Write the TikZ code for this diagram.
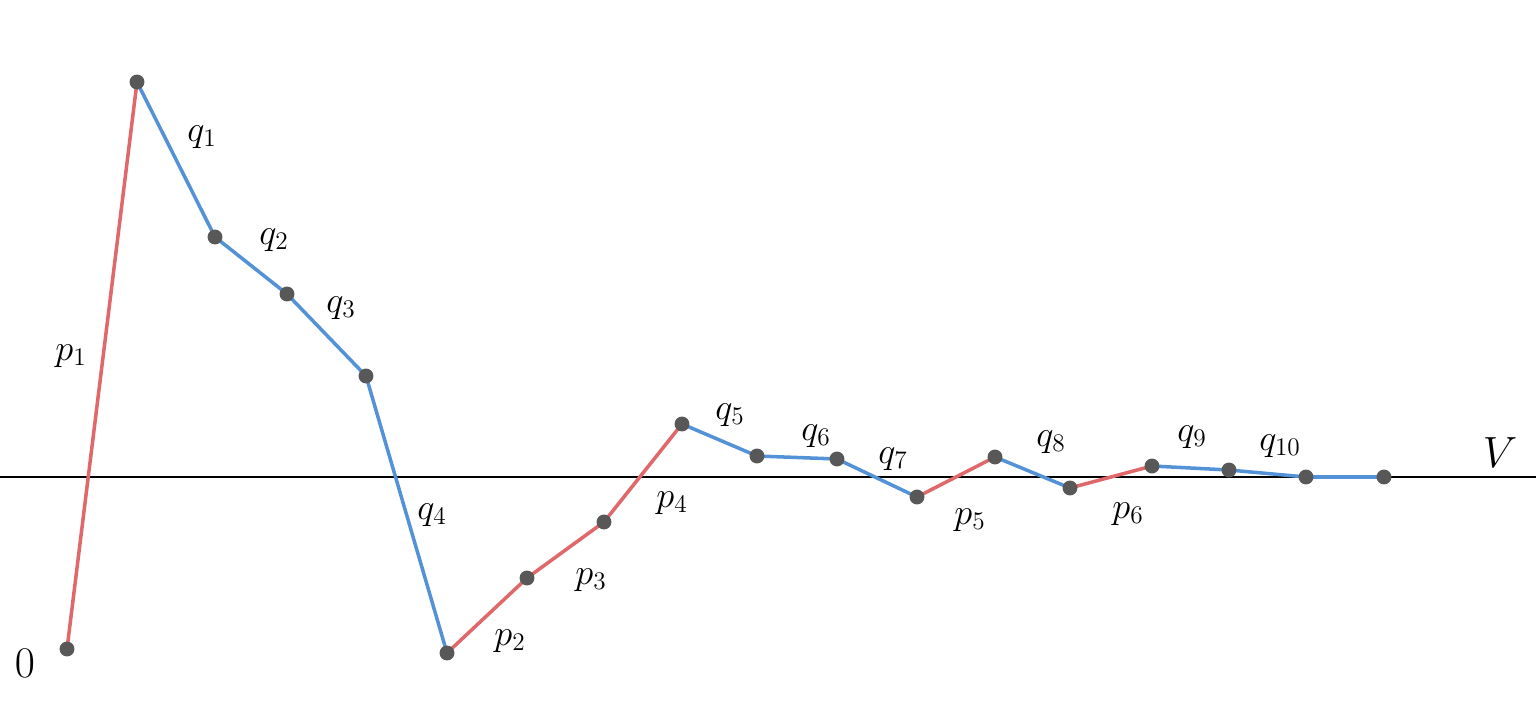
\documentclass[tikz,border=0pt]{standalone}
\begin{document}
\begin{tikzpicture}[x=0.02cm,y=-0.02cm,
  redseg/.style={draw={rgb,255:red,224;green,104;blue,106},line width=2pt},
  blueseg/.style={draw={rgb,255:red,84;green,146;blue,216},line width=2pt},
  dot/.style={circle,fill={rgb,255:red,88;green,88;blue,88},inner sep=0pt,minimum size=8.5pt},
  lab/.style={inner sep=0pt,font=\fontsize{21.5}{24}\selectfont},
  biglab/.style={inner sep=0pt,font=\fontsize{32}{36}\selectfont}]
\useasboundingbox (0,0) rectangle (1536,702);
% axis
\coordinate (AL) at (0,477);
\coordinate (AR) at (1536,477);
\draw[line width=0.8pt] (AL) -- (AR);
% points
\coordinate (P0) at (67,649);
\coordinate (P1) at (137,82);
\coordinate (P2) at (215,237);
\coordinate (P3) at (287,294);
\coordinate (P4) at (366,376);
\coordinate (P5) at (447,653);
\coordinate (P6) at (527,578);
\coordinate (P7) at (604,522);
\coordinate (P8) at (682,424);
\coordinate (P9) at (757,456);
\coordinate (P10) at (837,459);
\coordinate (P11) at (917,497);
\coordinate (P12) at (995,457);
\coordinate (P13) at (1070,488);
\coordinate (P14) at (1152,466);
\coordinate (P15) at (1229,470);
\coordinate (P16) at (1306,477);
\coordinate (P17) at (1384,477);
% segments
\draw[redseg] (P0) -- (P1);
\draw[blueseg] (P1) -- (P2);
\draw[blueseg] (P2) -- (P3);
\draw[blueseg] (P3) -- (P4);
\draw[blueseg] (P4) -- (P5);
\draw[redseg] (P5) -- (P6);
\draw[redseg] (P6) -- (P7);
\draw[redseg] (P7) -- (P8);
\draw[blueseg] (P8) -- (P9);
\draw[blueseg] (P9) -- (P10);
\draw[blueseg] (P10) -- (P11);
\draw[redseg] (P11) -- (P12);
\draw[blueseg] (P12) -- (P13);
\draw[redseg] (P13) -- (P14);
\draw[blueseg] (P14) -- (P15);
\draw[blueseg] (P15) -- (P16);
\draw[blueseg] (P16) -- (P17);
% dots
\foreach \i in {0,...,17} \node[dot] (D\i) at (P\i) {};
% labels
\node[lab] (lp1) at (71,356) {$p_1$};
\node[lab] (lq1) at (202,137) {$q_1$};
\node[lab] (lq2) at (274,240) {$q_2$};
\node[lab] (lq3) at (341,308) {$q_3$};
\node[lab] (lq4) at (432,515) {$q_4$};
\node[lab] (lp2) at (510,641) {$p_2$};
\node[lab] (lp3) at (591,580) {$p_3$};
\node[lab] (lp4) at (672,503) {$p_4$};
\node[lab] (lq5) at (730,415) {$q_5$};
\node[lab] (lq6) at (816,436) {$q_6$};
\node[lab] (lq7) at (893,459) {$q_7$};
\node[lab] (lp5) at (970,520) {$p_5$};
\node[lab] (lq8) at (1051,442) {$q_8$};
\node[lab] (lp6) at (1128,514) {$p_6$};
\node[lab] (lq9) at (1192,437) {$q_9$};
\node[lab] (lq10) at (1280,446) {$q_{10}$};
\node[biglab] (lV) at (1500,453) {$V$};
\node[biglab] (l0) at (25,663) {$0$};
\end{tikzpicture}
\end{document}
